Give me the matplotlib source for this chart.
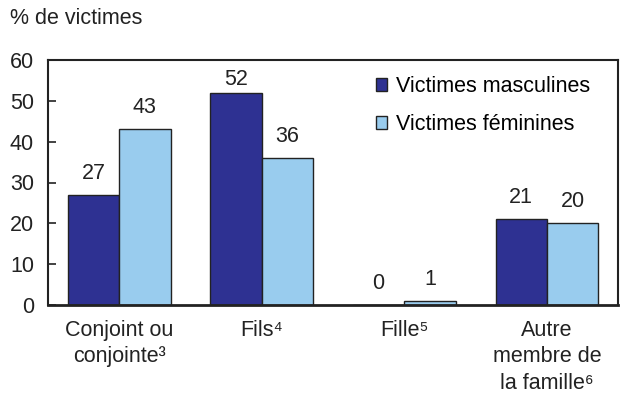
import matplotlib
matplotlib.use("Agg")
import matplotlib.pyplot as plt
import numpy as np

plt.rcParams['font.family'] = ['Liberation Sans', 'DejaVu Sans']

categories = ["Conjoint ou\nconjointe³", "Fils⁴", "Fille⁵", "Autre\nmembre de\nla famille⁶"]
male = [27, 52, 0, 21]
female = [43, 36, 1, 20]
series_names = ["Victimes masculines", "Victimes féminines"]
yticks = [0, 10, 20, 30, 40, 50, 60]

c_male = "#2E3192"
c_female = "#99CCEE"
fs = 15.5

fig = plt.figure(figsize=(6.21, 4.0), dpi=100)
ax = fig.add_axes([0.0773, 0.2375, 0.918, 0.6125])

x = np.arange(len(categories))
w = 0.36
b1 = ax.bar(x - w/2, male, w, color=c_male, edgecolor="#222222", linewidth=1.0, label=series_names[0])
b2 = ax.bar(x + w/2, female, w, color=c_female, edgecolor="#222222", linewidth=1.0, label=series_names[1])

ymax = 60
for bars, vals in ((b1, male), (b2, female)):
    for r, v in zip(bars, vals):
        # keep label inside the frame when the bar is close to the top
        off = 11.5 if v <= 48 else 5.8
        ax.annotate(str(v), (r.get_x() + r.get_width()/2, v), xytext=(0, off),
                    textcoords="offset points", ha="center", va="baseline", fontsize=fs, color="#222222")

ax.set_xlim(-0.5, 3.5)
ax.set_ylim(0, ymax)
ax.set_yticks(yticks)
ax.tick_params(axis='y', direction='in', length=6, width=1.2, labelsize=fs, pad=10, colors="#222222")
ax.tick_params(axis='x', length=0, labelsize=fs, pad=11, colors="#222222")
ax.set_xticks(x)
ax.set_xticklabels(categories, linespacing=1.32, va="top")
for s in ax.spines.values():
    s.set_linewidth(1.5)
    s.set_color("#222222")
ax.spines['bottom'].set_linewidth(2)

leg = ax.legend(loc="upper right", bbox_to_anchor=(0.985, 1.015), frameon=False, fontsize=fs,
                handlelength=0.55, handleheight=0.55, handletextpad=0.4, labelspacing=0.8)

fig.text(0.016, 0.955, "% de victimes", fontsize=fs, ha="left", va="center", color="#222222")

fig.savefig("out.png", dpi=100)
